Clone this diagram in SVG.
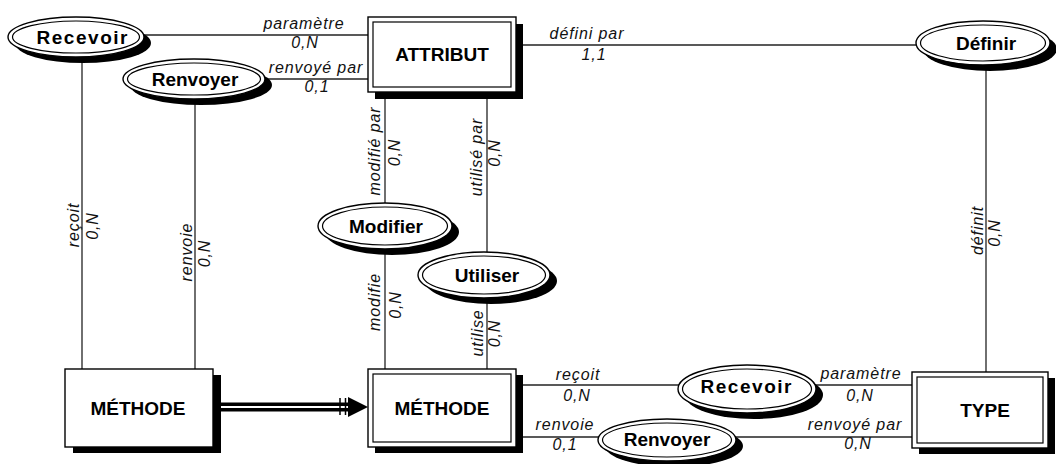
<svg xmlns="http://www.w3.org/2000/svg" width="1056" height="464" viewBox="0 0 1056 464">
  <style>
    .bg { fill: #ffffff; }
    .link { stroke: #222; stroke-width: 1.3; fill: none; }
    .shadow { fill: #000; }
    .frame { fill: #fff; stroke: #000; stroke-width: 1.4; }
    .inner { fill: none; stroke: #000; stroke-width: 1.2; }
    .name { font-family: "Liberation Sans", Arial, sans-serif; font-weight: bold; font-size: 19px; fill: #000; text-anchor: middle; }
    .lbl { font-family: "Liberation Sans", Arial, sans-serif; font-style: italic; font-size: 16px; letter-spacing: 0.9px; fill: #111; text-anchor: middle; }
  </style>
  <rect class="bg" x="0" y="0" width="1056" height="464"/>

  <!-- connectors -->
  <g id="connectors">
    <line class="link" x1="76" y1="35" x2="368" y2="35"/>
    <line class="link" x1="194" y1="79" x2="368" y2="79"/>
    <line class="link" x1="516" y1="45" x2="983" y2="45"/>
    <line class="link" x1="82" y1="40" x2="82" y2="369"/>
    <line class="link" x1="195" y1="80" x2="195" y2="369"/>
    <line class="link" x1="385" y1="92" x2="385" y2="369"/>
    <line class="link" x1="487" y1="92" x2="487" y2="369"/>
    <line class="link" x1="986" y1="45" x2="986" y2="372"/>
    <line class="link" x1="517" y1="385" x2="912" y2="385"/>
    <line class="link" x1="517" y1="437" x2="912" y2="437"/>

    <!-- double arrow between the two MÉTHODE entities -->
    <line x1="220" y1="404.3" x2="352" y2="404.3" stroke="#000" stroke-width="3.6"/>
    <line x1="220" y1="409.7" x2="352" y2="409.7" stroke="#000" stroke-width="3.6"/>
    <line x1="340" y1="398" x2="340" y2="415" stroke="#000" stroke-width="1.5"/>
    <line x1="345.5" y1="398" x2="345.5" y2="415" stroke="#000" stroke-width="1.5"/>
    <polygon points="348,397 368,407 348,417" fill="#000"/>

    <!-- role labels -->
    <text class="lbl" x="304" y="29">paramètre</text>
    <text class="lbl" x="305" y="48">0,N</text>
    <text class="lbl" x="316" y="73">renvoyé par</text>
    <text class="lbl" x="317" y="92">0,1</text>
    <text class="lbl" x="587" y="39">défini par</text>
    <text class="lbl" x="594" y="60">1,1</text>

    <text class="lbl" transform="translate(79,225) rotate(-90)">reçoit</text>
    <text class="lbl" transform="translate(98,226) rotate(-90)">0,N</text>
    <text class="lbl" transform="translate(192,252) rotate(-90)">renvoie</text>
    <text class="lbl" transform="translate(210,253.5) rotate(-90)">0,N</text>
    <text class="lbl" transform="translate(380,151) rotate(-90)">modifié par</text>
    <text class="lbl" transform="translate(400,152.5) rotate(-90)">0,N</text>
    <text class="lbl" transform="translate(482,157) rotate(-90)">utilisé par</text>
    <text class="lbl" transform="translate(500,153) rotate(-90)">0,N</text>
    <text class="lbl" transform="translate(380,302) rotate(-90)">modifie</text>
    <text class="lbl" transform="translate(401,305) rotate(-90)">0,N</text>
    <text class="lbl" transform="translate(483,333) rotate(-90)">utilise</text>
    <text class="lbl" transform="translate(500,333.5) rotate(-90)">0,N</text>
    <text class="lbl" transform="translate(983,230.5) rotate(-90)">définit</text>
    <text class="lbl" transform="translate(1000,233) rotate(-90)">0,N</text>

    <text class="lbl" x="578" y="380">reçoit</text>
    <text class="lbl" x="577" y="401">0,N</text>
    <text class="lbl" x="565" y="430">renvoie</text>
    <text class="lbl" x="565" y="450">0,1</text>
    <text class="lbl" x="861" y="379">paramètre</text>
    <text class="lbl" x="860" y="401">0,N</text>
    <text class="lbl" x="855" y="430">renvoyé par</text>
    <text class="lbl" x="858" y="449">0,N</text>
  </g>

  <!-- entities -->
  <g id="attribut">
    <rect class="shadow" x="375" y="24" width="148" height="75"/>
    <rect class="frame" x="368" y="17" width="148" height="75"/>
    <rect class="inner" x="373" y="22" width="138" height="65"/>
    <text class="name" x="442" y="61">ATTRIBUT</text>
  </g>
  <g id="methode-base">
    <rect class="shadow" x="73" y="375" width="148" height="78"/>
    <rect class="frame" x="65" y="369" width="148" height="78"/>
    <text class="name" x="138" y="415">MÉTHODE</text>
  </g>
  <g id="methode">
    <rect class="shadow" x="375" y="375" width="148" height="78"/>
    <rect class="frame" x="368" y="369" width="148" height="78"/>
    <rect class="inner" x="373" y="374" width="138" height="68"/>
    <text class="name" x="442" y="415">MÉTHODE</text>
  </g>
  <g id="type">
    <rect class="shadow" x="919" y="378" width="136" height="76"/>
    <rect class="frame" x="912" y="372" width="136" height="76"/>
    <rect class="inner" x="917" y="377" width="126" height="66"/>
    <text class="name" x="985" y="417">TYPE</text>
  </g>

  <!-- associations -->
  <g id="recevoir-attribut">
    <ellipse class="shadow" cx="83" cy="43" rx="68" ry="20"/>
    <ellipse class="frame" cx="76" cy="37" rx="68" ry="20"/>
    <ellipse class="inner" cx="76" cy="37" rx="63.5" ry="16"/>
    <text class="name" x="82" y="44" textLength="91">Recevoir</text>
  </g>
  <g id="renvoyer-attribut">
    <ellipse class="shadow" cx="201" cy="85" rx="71" ry="20"/>
    <ellipse class="frame" cx="194" cy="79" rx="71" ry="20"/>
    <ellipse class="inner" cx="194" cy="79" rx="66.5" ry="16"/>
    <text class="name" x="195" y="86">Renvoyer</text>
  </g>
  <g id="definir">
    <ellipse class="shadow" cx="990" cy="49" rx="67" ry="22"/>
    <ellipse class="frame" cx="983" cy="43" rx="67" ry="22"/>
    <ellipse class="inner" cx="983" cy="43" rx="62.5" ry="18"/>
    <text class="name" x="986" y="50">Définir</text>
  </g>
  <g id="modifier">
    <ellipse class="shadow" cx="392" cy="232" rx="67" ry="23"/>
    <ellipse class="frame" cx="385" cy="226" rx="67" ry="23"/>
    <ellipse class="inner" cx="385" cy="226" rx="62.5" ry="19"/>
    <text class="name" x="386" y="233">Modifier</text>
  </g>
  <g id="utiliser">
    <ellipse class="shadow" cx="491" cy="281" rx="66" ry="23"/>
    <ellipse class="frame" cx="484" cy="275" rx="66" ry="23"/>
    <ellipse class="inner" cx="484" cy="275" rx="61.5" ry="19"/>
    <text class="name" x="487" y="282">Utiliser</text>
  </g>
  <g id="recevoir-type">
    <ellipse class="shadow" cx="754" cy="395" rx="69" ry="24"/>
    <ellipse class="frame" cx="747" cy="389" rx="69" ry="24"/>
    <ellipse class="inner" cx="747" cy="389" rx="64.5" ry="20"/>
    <text class="name" x="746" y="393" textLength="91">Recevoir</text>
  </g>
  <g id="renvoyer-type">
    <ellipse class="shadow" cx="674" cy="446" rx="69" ry="21"/>
    <ellipse class="frame" cx="667" cy="440" rx="69" ry="21"/>
    <ellipse class="inner" cx="667" cy="440" rx="64.5" ry="17"/>
    <text class="name" x="667" y="446">Renvoyer</text>
  </g>
</svg>
